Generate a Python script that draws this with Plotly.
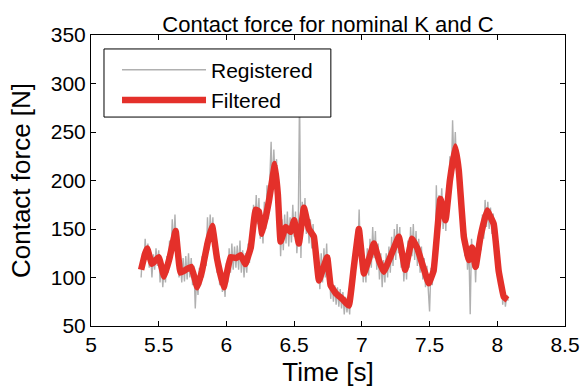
import numpy as np
import plotly.graph_objects as go

# Filtered contact force: breakpoints of the smoothed signal (time [s], force [N])
filtered_time = [
    5.37, 5.40, 5.415, 5.45, 5.50, 5.54, 5.58, 5.625, 5.66, 5.70, 5.74, 5.785,
    5.82, 5.86, 5.895, 5.93, 5.98, 6.03, 6.07, 6.105, 6.14, 6.18, 6.215, 6.24,
    6.264, 6.314, 6.358, 6.38, 6.40, 6.437, 6.474, 6.50, 6.535, 6.572, 6.609,
    6.646, 6.683, 6.744, 6.769, 6.806, 6.855, 6.904, 6.94, 6.978, 7.015, 7.05,
    7.089, 7.125, 7.162, 7.21, 7.273, 7.32, 7.371, 7.41, 7.457, 7.494, 7.53,
    7.58, 7.618, 7.65, 7.69, 7.716, 7.753, 7.79, 7.813, 7.84, 7.876, 7.925,
    7.974, 8.01, 8.048, 8.075,
]
filtered_force = [
    108, 125, 130, 114, 121, 101, 120, 148, 105, 108, 111, 90,
    107, 135, 153, 120, 90, 121, 120, 123, 114, 131, 170, 168,
    145, 179, 217, 185, 137, 152, 147, 159, 135, 172, 150,
    142, 97, 121, 92, 84, 78, 71, 110, 150, 104, 118,
    135, 118, 106, 121, 142, 108, 140, 130, 109, 94, 107,
    181, 159, 200, 235, 210, 142, 118, 131, 111, 142, 169,
    155, 107, 80, 77,
]

# Registered (raw) contact force, sampled every 10 ms from t = 5.37 s
registered_start = 5.37
registered_step = 0.01
registered_force = [
    100, 125, 112, 140, 118, 135, 110, 126, 100, 124,
    108, 130, 112, 128, 95, 118, 90, 110, 95, 122,
    105, 138, 118, 160, 130, 165, 128, 145, 100, 118,
    95, 120, 96, 122, 98, 125, 100, 120, 92, 112,
    68, 100, 82, 110, 92, 122, 100, 135, 112, 162,
    128, 165, 140, 162, 125, 145, 105, 125, 92, 110,
    85, 100, 80, 115, 95, 130, 105, 135, 108, 132,
    110, 133, 108, 138, 105, 128, 100, 125, 105, 135,
    115, 148, 128, 175, 150, 185, 155, 182, 140, 165,
    135, 178, 150, 195, 160, 215, 240, 190, 232, 200,
    222, 165, 180, 122, 160, 128, 165, 135, 168, 132,
    162, 136, 175, 142, 168, 125, 150, 290, 120, 178,
    155, 182, 145, 165, 135, 160, 130, 155, 120, 138,
    95, 112, 88, 125, 95, 130, 100, 135, 95, 110,
    78, 98, 75, 92, 72, 90, 70, 88, 68, 85,
    62, 80, 64, 78, 62, 95, 85, 128, 105, 150,
    125, 170, 120, 140, 95, 118, 95, 130, 102, 140,
    110, 152, 120, 148, 108, 135, 98, 125, 90, 118,
    95, 125, 100, 132, 105, 142, 112, 150, 118, 155,
    125, 152, 110, 135, 96, 122, 98, 138, 110, 152,
    122, 155, 118, 148, 112, 140, 105, 132, 98, 120,
    90, 112, 82, 65, 110, 92, 128, 110, 195, 140,
    185, 165, 192, 150, 178, 148, 195, 175, 225, 195,
    262, 215, 250, 212, 230, 185, 200, 148, 162, 122,
    145, 108, 132, 62, 140, 110, 132, 95, 135, 110,
    150, 128, 165, 140, 180, 152, 178, 150, 172, 145,
    166, 130, 145, 105, 118, 88, 100, 72, 86, 70,
    82, 76,
]
registered_time = registered_start + registered_step * np.arange(len(registered_force))

x_ticks = [5, 5.5, 6, 6.5, 7, 7.5, 8, 8.5]
x_tick_text = ["5", "5.5", "6", "6.5", "7", "7.5", "8", "8.5"]
y_ticks = [50, 100, 150, 200, 250, 300, 350]

FONT = "Liberation Sans, Arial, Helvetica, sans-serif"

fig = go.Figure()
fig.add_trace(go.Scatter(
    x=registered_time, y=registered_force, mode="lines", name="Registered",
    line=dict(color="#b0b0b0", width=1.4),
))
fig.add_trace(go.Scatter(
    x=filtered_time, y=filtered_force, mode="lines", name="Filtered",
    line=dict(color="#e4302a", width=6.5, shape="spline", smoothing=0.25),
))

axis_common = dict(
    showline=True, linecolor="black", linewidth=1, mirror="ticks",
    ticks="inside", ticklen=5, tickcolor="black", tickwidth=1,
    showgrid=False, zeroline=False, automargin=False,
    tickfont=dict(family=FONT, size=21, color="black"),
)

# Opaque framed box behind the legend entries
fig.add_shape(type="rect", xref="paper", yref="paper",
              x0=0.0274, x1=0.506, y0=0.718, y1=0.952,
              fillcolor="white", line=dict(color="black", width=1),
              layer="above")

fig.update_layout(
    width=583, height=387,
    margin=dict(l=91, r=18, t=35, b=61),
    paper_bgcolor="white", plot_bgcolor="white",
    title=dict(text="Contact force for nominal K and C", x=0.5, xanchor="center",
               xref="paper", y=0.938, yanchor="middle",
               font=dict(family=FONT, size=22, color="black")),
    xaxis=dict(range=[5, 8.5], tickvals=x_ticks, ticktext=x_tick_text,
               title=dict(text="Time [s]", standoff=9,
                          font=dict(family=FONT, size=26, color="black")),
               **axis_common),
    yaxis=dict(range=[50, 350], tickvals=y_ticks,
               title=dict(text="Contact force [N]", standoff=12,
                          font=dict(family=FONT, size=26, color="black")),
               **axis_common),
    legend=dict(x=0.038, y=0.95, xanchor="left", yanchor="top",
                bgcolor="rgba(0,0,0,0)", borderwidth=0,
                font=dict(family=FONT, size=21, color="black"),
                itemwidth=84, indentation=8, tracegroupgap=0),
    showlegend=True,
)

fig.write_html("out.html")
